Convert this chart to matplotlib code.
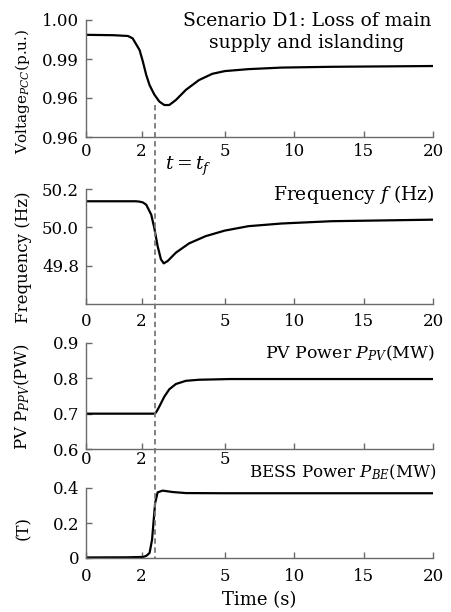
import matplotlib
matplotlib.use("Agg")
import matplotlib.pyplot as plt
import matplotlib.transforms as mtransforms
from matplotlib.lines import Line2D
import numpy as np

plt.rcParams['font.family'] = ['DejaVu Serif']
plt.rcParams['mathtext.fontset'] = 'dejavuserif'

# values (time in s)
t_volt = [0, 1.0, 1.51, 1.68, 1.93, 2.05, 2.17, 2.29, 2.46, 2.64, 2.82, 3.0,
          3.24, 3.6, 4.07, 4.55, 5.0, 6.7, 9.1, 12.7, 20]
volt = [0.9962, 0.9961, 0.9959, 0.9953, 0.9923, 0.9893, 0.9859, 0.9833, 0.9809, 0.9791,
        0.9782, 0.9782, 0.9795, 0.9821, 0.9846, 0.9862, 0.9869, 0.9874, 0.9878, 0.9880, 0.9882]
volt_ticks = [0.97, 0.98, 0.99, 1.00]
volt_labels = ["0.96", "0.96", "0.99", "1.00"]

t_freq = [0, 1.8, 1.93, 2.05, 2.17, 2.35, 2.46, 2.58, 2.7, 2.8, 2.94, 3.24,
          3.71, 4.31, 5.0, 6.7, 9.1, 12.7, 20]
freq = [50.136, 50.136, 50.134, 50.13, 50.118, 50.066, 49.997, 49.902, 49.833, 49.812,
        49.824, 49.868, 49.916, 49.954, 49.983, 50.006, 50.020, 50.032, 50.040]
freq_ticks = [49.8, 50.0, 50.2]

t_pv = [0, 2.45, 2.52, 2.64, 2.82, 3.0, 3.24, 3.6, 4.07, 5.4, 20]
pv = [0.700, 0.700, 0.703, 0.720, 0.748, 0.769, 0.784, 0.793, 0.796, 0.798, 0.798]
pv_ticks = [0.6, 0.7, 0.8, 0.9]

t_bess = [0, 1.5, 2.05, 2.17, 2.29, 2.38, 2.43, 2.49, 2.58, 2.76, 3.12, 3.6, 5.0, 20]
bess = [0.003, 0.004, 0.006, 0.012, 0.029, 0.105, 0.200, 0.314, 0.375, 0.385, 0.377,
        0.371, 0.370, 0.370]
bess_ticks = [0, 0.2, 0.4]
bess_labels = ["0", "0.2", "0.4"]

x_ticks = [0, 2, 5, 10, 15, 20]
t_fault = 2.5


def fwd(x):
    x = np.asarray(x, dtype=float)
    return np.where(x <= 5, 2 * x, x + 5)


def inv(y):
    y = np.asarray(y, dtype=float)
    return np.where(y <= 10, y / 2, y - 5)


W, H = 451, 612
fig = plt.figure(figsize=(W / 100, H / 100), dpi=100)

# axes boxes in pixels: top, bottom
boxes = [(20, 137), (189, 304), (343, 449), (488, 558)]
left, right = 86, 433
axes = []
for top, bot in boxes:
    ax = fig.add_axes([left / W, 1 - bot / H, (right - left) / W, (bot - top) / H])
    axes.append(ax)

gray = "#6a6a6a"
fs_tick = 12
fs_lab = 12
fs_title = 13.5
xpads = [4.5, 6.5, 1.5, 7.5]
for ax, xp in zip(axes, xpads):
    ax.set_xscale('function', functions=(fwd, inv))
    ax.set_xlim(0, 20)
    ax.set_xticks(x_ticks)
    ax.set_xticklabels([str(v) for v in x_ticks])
    for s in ['top', 'right']:
        ax.spines[s].set_visible(False)
    for s in ['left', 'bottom']:
        ax.spines[s].set_color(gray)
        ax.spines[s].set_linewidth(1.0)
    ax.tick_params(direction='in', length=4, width=1, color=gray, labelsize=fs_tick)
    ax.tick_params(axis='x', pad=xp)
    ax.tick_params(axis='y', pad=5)
    ax.minorticks_off()

ax1, ax2, ax3, ax4 = axes

ax1.plot(t_volt, volt, color='black', lw=1.6)
ax1.set_ylim(0.97, 1.00)
ax1.set_yticks(volt_ticks)
ax1.set_yticklabels(volt_labels)
ax1.set_ylabel("Voltage$_{PCC}$(p.u.)", fontsize=11)
ax1.yaxis.set_label_coords(-0.155, 0.39)

ax2.plot(t_freq, freq, color='black', lw=1.6)
ax2.set_ylim(49.6, 50.2)
ax2.set_yticks(freq_ticks)
ax2.set_yticklabels(["49.8", "50.0", "50.2"])
ax2.set_ylabel("Frequency (Hz)", fontsize=fs_lab)
ax2.yaxis.set_label_coords(-0.155, 0.41)

ax3.plot(t_pv, pv, color='black', lw=1.6)
ax3.set_ylim(0.6, 0.9)
ax3.set_yticks(pv_ticks)
ax3.set_yticklabels(["0.6", "0.7", "0.8", "0.9"])
ax3.set_xticklabels(["0", "2", "5", "", "", ""])
ax3.set_ylabel("PV P$_{PPV}$(PW)", fontsize=fs_lab)
ax3.yaxis.set_label_coords(-0.155, 0.49)

ax4.plot(t_bess, bess, color='black', lw=1.6)
ax4.set_ylim(0, 0.4)
ax4.set_yticks(bess_ticks)
ax4.set_yticklabels(bess_labels)
ax4.set_ylabel("(T)", fontsize=fs_lab)
ax4.yaxis.set_label_coords(-0.155, 0.43)
ax4.set_xlabel("Time (s)", fontsize=13)
ax4.xaxis.set_label_coords(0.5, -0.47)

# panel titles
fig.text(307 / W, 1 - 26 / H, "Scenario D1: Loss of main", fontsize=fs_title,
         ha='center', va='baseline')
fig.text(307 / W, 1 - 48 / H, "supply and islanding", fontsize=fs_title,
         ha='center', va='baseline')
fig.text(435 / W, 1 - 200 / H, "Frequency $f$ (Hz)", fontsize=fs_title,
         ha='right', va='baseline')
fig.text(435 / W, 1 - 358 / H, "PV Power $P_{PV}$(MW)", fontsize=12.5,
         ha='right', va='baseline')
fig.text(436 / W, 1 - 477 / H, "BESS Power $P_{BE}$(MW)", fontsize=12,
         ha='right', va='baseline')

# fault instant marker
trans = mtransforms.blended_transform_factory(ax1.transData, fig.transFigure)
fig.add_artist(Line2D([t_fault, t_fault], [1 - 105 / H, 1 - 558 / H], transform=trans,
                      color='#777777', lw=1.3, ls=(0, (3, 2))))
fig.text(165 / W, 1 - 170 / H, "$t = t_f$", fontsize=fs_title, ha='left', va='baseline')

fig.savefig("out.png", dpi=100)
